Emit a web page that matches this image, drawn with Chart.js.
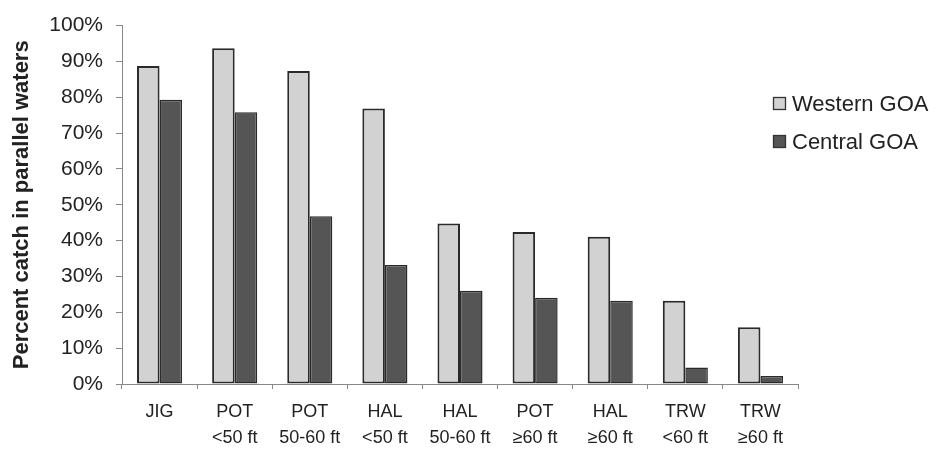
<!DOCTYPE html>
<html>
<head>
<meta charset="utf-8">
<script src="https://cdn.jsdelivr.net/npm/chart.js@4"></script>
<style>
  html, body { margin: 0; padding: 0; background: #fff; }
  #wrap { width: 938px; height: 449px; position: relative; }
</style>
</head>
<body>
<div id="wrap"><canvas id="catchChart"></canvas></div>
<script>
// Percent catch in parallel waters, by gear/vessel class
const categories = [
    ['JIG'], ['POT', '<50 ft'], ['POT', '50-60 ft'], ['HAL', '<50 ft'], ['HAL', '50-60 ft'],
    ['POT', '≥60 ft'], ['HAL', '≥60 ft'], ['TRW', '<60 ft'], ['TRW', '≥60 ft']
];
const westernGOA = [88.7, 93.7, 87.3, 76.9, 44.8, 42.4, 41.1, 23.2, 15.8];
const centralGOA = [79.3, 75.8, 46.8, 33.2, 26.0, 24.1, 23.2, 4.6, 2.2];
const yTicks = [0, 10, 20, 30, 40, 50, 60, 70, 80, 90, 100];

const FONT = '"Liberation Sans", Arial, sans-serif';

// Excel-style legend sitting over the right side of the plot
const sideLegend = {
    id: 'sideLegend',
    afterDraw(chart) {
        const ctx = chart.ctx;
        ctx.save();
        ctx.font = '22px ' + FONT;
        ctx.textBaseline = 'middle';
        chart.data.datasets.forEach((ds, i) => {
            const y = 104 + i * 38;
            ctx.fillStyle = ds.backgroundColor;
            ctx.fillRect(773.5, y - 6.5, 12, 12);
            ctx.strokeStyle = '#333';
            ctx.lineWidth = 1.3;
            ctx.strokeRect(773.5, y - 6.5, 12, 12);
            ctx.fillStyle = '#222';
            ctx.fillText(ds.label, 792, y + 1);
        });
        ctx.restore();
    }
};

new Chart(document.getElementById('catchChart').getContext('2d'), {
    type: 'bar',
    data: {
        labels: categories,
        datasets: [{
            label: 'Western GOA',
            data: westernGOA,
            backgroundColor: '#d2d2d2',
            borderColor: '#2a2a2a',
            borderWidth: 2,
            borderSkipped: false
        }, {
            label: 'Central GOA',
            data: centralGOA,
            backgroundColor: '#555555',
            borderColor: '#2a2a2a',
            borderWidth: 1.5,
            borderSkipped: false
        }]
    },
    options: {
        responsive: true,
        maintainAspectRatio: false,
        animation: false,
        layout: { padding: { top: 17, right: 140, bottom: 0, left: 0 } },
        datasets: { bar: { categoryPercentage: 0.6, barPercentage: 1.0 } },
        plugins: {
            legend: { display: false },
            tooltip: { enabled: false }
        },
        scales: {
            x: {
                grid: { drawOnChartArea: false, tickLength: 5, color: '#888', offset: true },
                border: { color: '#888', width: 1 },
                ticks: {
                    color: '#222',
                    font: { family: FONT, size: 18, lineHeight: 1.45 },
                    maxRotation: 0,
                    autoSkip: false,
                    padding: 10
                },
                afterFit: function(scale) { scale.height = 65; }
            },
            y: {
                min: 0,
                max: 100,
                afterBuildTicks: function(scale) {
                    scale.ticks = yTicks.map(v => ({ value: v }));
                },
                grid: { drawOnChartArea: false, tickLength: 6, color: '#888' },
                border: { color: '#888', width: 1 },
                ticks: {
                    color: '#222',
                    font: { family: FONT, size: 21 },
                    padding: 13,
                    callback: function(value) { return value + '%'; }
                },
                title: {
                    display: true,
                    text: 'Percent catch in parallel waters',
                    color: '#222',
                    font: { family: FONT, size: 22, weight: 'bold' },
                    padding: { top: 9, bottom: 6 }
                },
                afterFit: function(scale) { scale.width = 122; }
            }
        }
    },
    plugins: [sideLegend]
});
</script>
</body>
</html>
